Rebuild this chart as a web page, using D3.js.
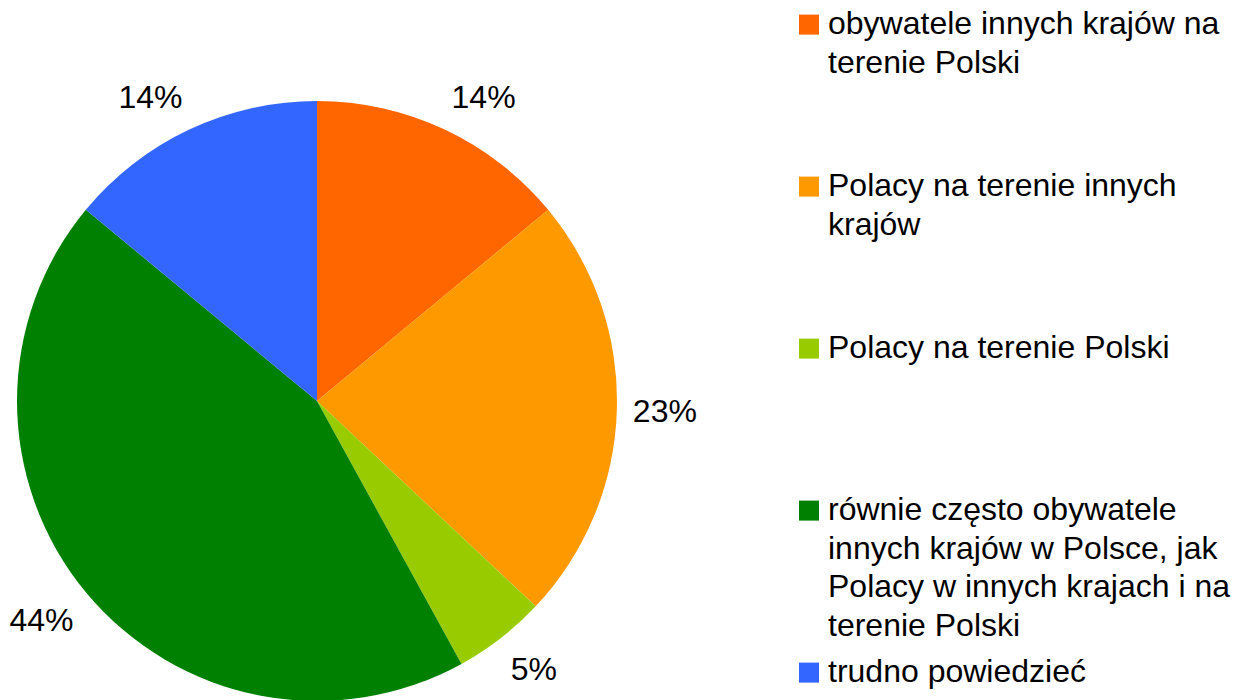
<!DOCTYPE html>
<html lang="pl">
<head>
<meta charset="utf-8">
<script src="https://cdn.jsdelivr.net/npm/d3@7"></script>
<style>
  html, body { margin: 0; padding: 0; background: #ffffff; }
  svg { display: block; font-family: "Liberation Sans", Arial, sans-serif; }
</style>
</head>
<body>
<svg id="chart" width="1241" height="700"></svg>
<script>
// Odpowiedzi (w procentach), w kolejności rysowania od godziny 12 zgodnie z ruchem wskazówek zegara
const categories = [
  "obywatele innych krajów na terenie Polski",
  "Polacy na terenie innych krajów",
  "Polacy na terenie Polski",
  "równie często obywatele innych krajów w Polsce, jak Polacy w innych krajach i na terenie Polski",
  "trudno powiedzieć"
];
const values = [14, 23, 5, 44, 14];
const colors = ["#ff6600", "#ff9900", "#99cc00", "#008000", "#3366ff"];

const svg = d3.select("#chart");
const fontSize = 32;

// Koło
const cx = 317, cy = 401, radius = 300;
const labelRadius = radius + 16;

const pie = d3.pie().sort(null).value(d => d.value).startAngle(0).endAngle(2 * Math.PI);
const data = values.map((v, i) => ({ name: categories[i], value: v, color: colors[i] }));
const arcs = pie(data);
const arc = d3.arc().innerRadius(0).outerRadius(radius);

const g = svg.append("g").attr("transform", `translate(${cx},${cy})`);

g.selectAll("path.slice")
  .data(arcs)
  .join("path")
  .attr("class", "slice")
  .attr("d", arc)
  .attr("fill", d => d.data.color);

// Etykiety procentowe: narożnik pola tekstu przylega do punktu na promieniu labelRadius
const total = d3.sum(values);
const fmt = v => Math.round(v / total * 100) + "%";

g.selectAll("text.pct")
  .data(arcs)
  .join("text")
  .attr("class", "pct")
  .attr("font-size", fontSize)
  .attr("fill", "#000")
  .each(function (d) {
    const a = (d.startAngle + d.endAngle) / 2;
    const s = Math.sin(a), c = Math.cos(a);
    const x = labelRadius * s, y = -labelRadius * c;
    const anchor = s > 0.38 ? "start" : (s < -0.38 ? "end" : "middle");
    // górna krawędź, dolna krawędź lub środek pola tekstu (ascent 0.905em, descent 0.212em)
    const dy = c > 0.38 ? "-0.212em" : (c < -0.38 ? "0.905em" : "0.3465em");
    d3.select(this)
      .attr("x", x)
      .attr("y", y)
      .attr("dy", dy)
      .attr("text-anchor", anchor)
      .text(fmt(d.data.value));
  });

// Legenda
const legendX = 799, legendFirstBaseline = 34.3, legendStep = 162;
const swatch = 20, textX = legendX + 29, lineHeight = 38.5, maxTextWidth = 410;

const legend = svg.append("g").attr("class", "legend");

data.forEach((d, i) => {
  const base = legendFirstBaseline + i * legendStep;
  legend.append("rect")
    .attr("x", legendX)
    .attr("y", base - swatch + 0.3)
    .attr("width", swatch)
    .attr("height", swatch)
    .attr("fill", d.color);

  const text = legend.append("text")
    .attr("x", textX)
    .attr("y", base)
    .attr("font-size", fontSize)
    .attr("fill", "#000");

  // zawijanie wierszy do szerokości legendy
  const words = d.name.split(" ");
  let line = [];
  let lineNo = 0;
  let tspan = text.append("tspan").attr("x", textX).attr("y", base);
  words.forEach(w => {
    line.push(w);
    tspan.text(line.join(" "));
    if (tspan.node().getComputedTextLength() > maxTextWidth && line.length > 1) {
      line.pop();
      tspan.text(line.join(" "));
      line = [w];
      lineNo += 1;
      tspan = text.append("tspan")
        .attr("x", textX)
        .attr("y", base + lineNo * lineHeight)
        .text(w);
    }
  });
});
</script>
</body>
</html>
